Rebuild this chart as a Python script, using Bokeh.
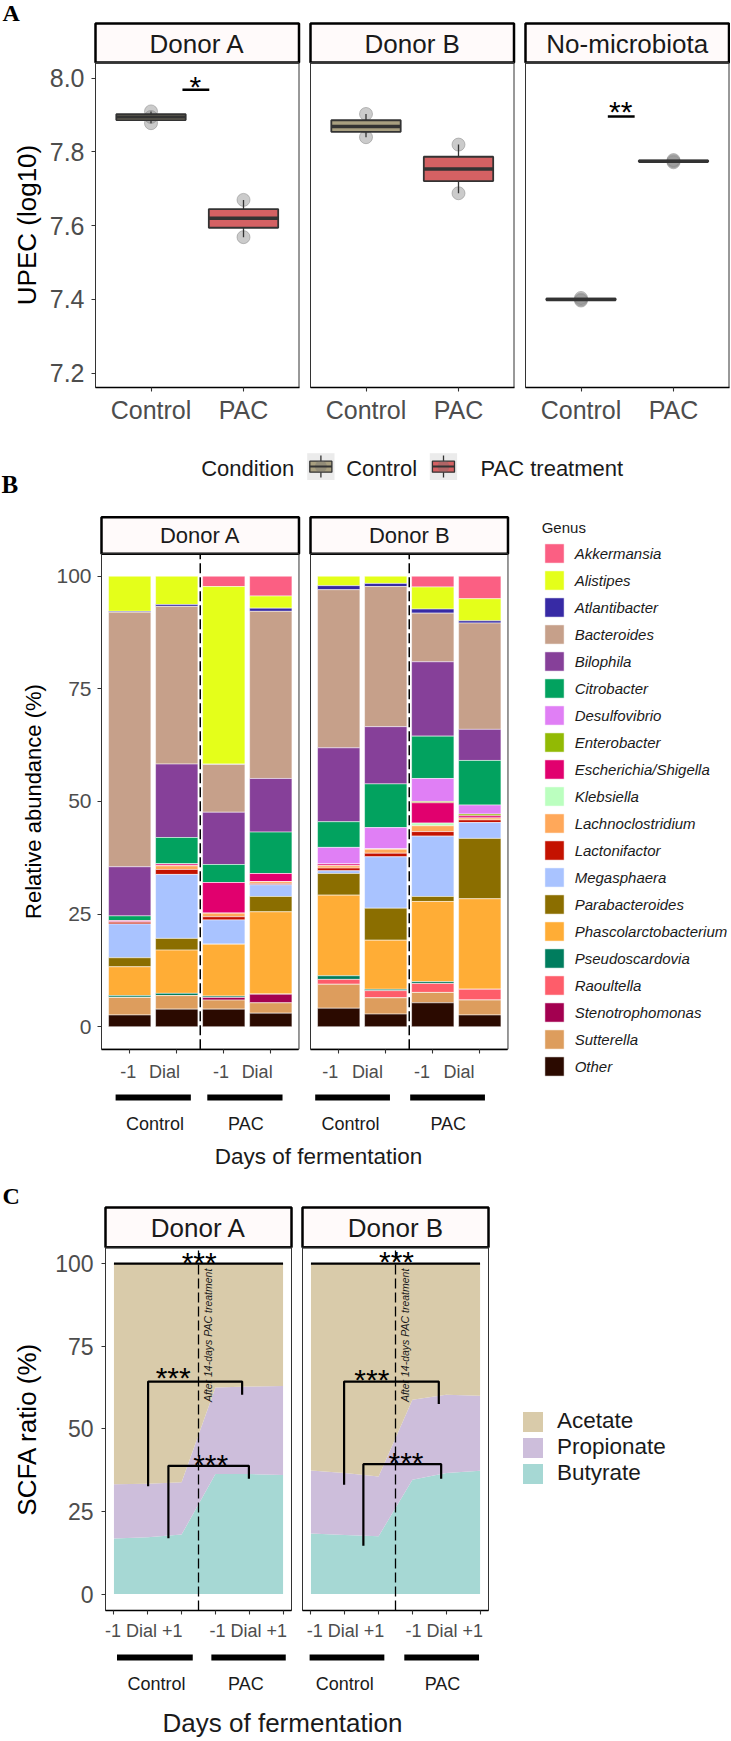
import numpy as np
from bokeh.plotting import figure
from bokeh.models import Range1d, LinearAxis, FixedTicker, Legend, LegendItem
from bokeh.layouts import column
from bokeh.embed import file_html
from bokeh.resources import INLINE
from bokeh.core.properties import value

# ======================= DATA =======================
# --- A: UPEC counts (log10), three replicates per box
upec_facets = ["Donor A", "Donor B", "No-microbiota"]
upec_groups = ["Control", "PAC"]
upec_control = [[7.878, 7.895, 7.910], [7.840, 7.869, 7.903], [7.397, 7.400, 7.404]]
upec_pac = [[7.569, 7.620, 7.670], [7.688, 7.754, 7.820], [7.772, 7.775, 7.778]]
upec_ticks = [7.2, 7.4, 7.6, 7.8, 8.0]
upec_tick_labels = ["7.2", "7.4", "7.6", "7.8", "8.0"]
upec_sig_facet = [0, 2]
upec_sig_x0 = [1.34, 1.29]
upec_sig_x1 = [1.63, 1.58]
upec_sig_y = [7.9685, 7.896]
upec_sig_text = ["*", "**"]
upec_sig_text_x = [1.48, 1.43]
upec_sig_text_y = [7.9965, 7.928]
condition_names = ["Control", "PAC treatment"]

# --- B: relative abundance (%) per genus, legend order
genus_names = ["Akkermansia", "Alistipes", "Atlantibacter", "Bacteroides", "Bilophila",
               "Citrobacter", "Desulfovibrio", "Enterobacter", "Escherichia/Shigella",
               "Klebsiella", "Lachnoclostridium", "Lactonifactor", "Megasphaera",
               "Parabacteroides", "Phascolarctobacterium", "Pseudoscardovia", "Raoultella",
               "Stenotrophomonas", "Sutterella", "Other"]
abund_A_ctrl_m1 = [0, 7.8, 0.2, 56.5, 10.9, 1.1, 0, 0, 0.3, 0, 0, 0.4, 7.5, 2.0, 6.4, 0.4, 0, 0, 3.9, 2.6]
abund_A_ctrl_dial = [0, 6.3, 0.4, 35.0, 16.3, 5.9, 0, 0, 0.4, 0, 0.8, 1.1, 14.2, 2.6, 9.6, 0.5, 0, 0, 3.0, 3.9]
abund_A_pac_m1 = [2.3, 39.4, 0.1, 10.6, 11.6, 4.0, 0, 0, 6.8, 0, 0.8, 0.7, 5.4, 0, 11.5, 0.3, 0, 0.6, 2.0, 3.9]
abund_A_pac_dial = [4.4, 2.7, 0.7, 37.1, 11.9, 9.2, 0, 0, 1.8, 0, 0.4, 0.3, 2.6, 3.4, 18.3, 0, 0, 1.9, 2.3, 3.0]
abund_B_ctrl_m1 = [0, 2.1, 0.9, 35.1, 16.4, 5.7, 3.7, 0, 0.4, 0, 0.5, 0.6, 0.6, 4.8, 17.9, 0.8, 1.1, 0, 5.3, 4.1]
abund_B_ctrl_dial = [0, 1.6, 0.7, 31.1, 12.7, 9.7, 4.8, 0, 0, 0, 0.9, 0.8, 11.4, 7.1, 10.9, 0.3, 1.6, 0, 3.6, 2.8]
abund_B_pac_m1 = [2.4, 4.9, 0.9, 10.8, 16.5, 9.4, 5.1, 0.3, 4.5, 0.6, 1.3, 1.0, 13.4, 1.1, 17.8, 0.4, 2.0, 0, 2.3, 5.3]
abund_B_pac_dial = [5.0, 4.9, 0.5, 23.6, 6.9, 9.9, 2.0, 0.4, 0.5, 0, 0.4, 0.6, 3.5, 13.4, 20.1, 0, 2.4, 0, 3.3, 2.6]
abund_facets = ["Donor A", "Donor B"]
abund_samples = [[abund_A_ctrl_m1, abund_A_ctrl_dial, abund_A_pac_m1, abund_A_pac_dial],
                 [abund_B_ctrl_m1, abund_B_ctrl_dial, abund_B_pac_m1, abund_B_pac_dial]]
abund_ticks = [0, 25, 50, 75, 100]
abund_day_labels = ["-1", "Dial", "-1", "Dial"]
abund_day_label_x = [[0.97, 1.74, 2.94, 3.71], [0.82, 1.61, 2.77, 3.56]]
group_names = ["Control", "PAC"]
abund_group_x0 = [[0.70, 2.65], [0.50, 2.52]]
abund_group_x1 = [[2.30, 4.25], [2.09, 4.11]]
abund_group_label_x = [[1.54, 3.47], [1.25, 3.33]]

# --- C: SCFA ratio (%)
scfa_names = ["Acetate", "Propionate", "Butyrate"]
scfa_days = [1, 2, 3, 4, 5, 6]
butyrate_A = [16.8, 17.2, 18.0, 36.3, 36.3, 36.0]
propionate_A = [16.4, 16.2, 15.8, 26.2, 26.5, 27.0]
acetate_A = [66.8, 66.6, 66.2, 37.5, 37.2, 37.0]
butyrate_B = [18.3, 17.9, 17.5, 34.6, 36.6, 37.3]
propionate_B = [19.1, 18.7, 18.1, 24.2, 23.7, 22.7]
acetate_B = [62.6, 63.4, 64.4, 41.2, 39.7, 40.0]
scfa_ticks = [0, 25, 50, 75, 100]
scfa_day_label = "-1 Dial +1"
scfa_day_label_x = [[1.88, 4.97], [2.02, 4.94]]
scfa_group_x0 = [[1.09, 3.88], [0.96, 3.76]]
scfa_group_x1 = [[3.33, 6.08], [3.17, 5.97]]
scfa_group_label_x = [[2.26, 4.90], [2.00, 4.89]]
scfa_note = "After 14-days PAC treatment"
scfa_note_x = [3.77, 3.79]
scfa_note_y = 78.3
scfa_br_facet = [0, 0, 0, 1, 1, 1]
scfa_br_x0 = [1.0, 2.01, 2.61, 1.0, 1.98, 2.55]
scfa_br_x1 = [6.0, 4.79, 4.99, 6.0, 4.78, 4.85]
scfa_br_y = [100, 64.3, 38.8, 100, 64.3, 39.3]
scfa_br_y0 = [100, 32.6, 16.9, 100, 33.1, 14.6]
scfa_br_y1 = [100, 60.3, 34.9, 100, 57.5, 34.9]
scfa_br_text_x = [3.52, 2.75, 3.86, 3.53, 2.80, 3.81]
scfa_br_text_y = [102.6, 67.5, 41.4, 102.7, 67.1, 41.9]

# ======================= STYLE =======================
FONT = "Liberation Sans"
SERIF = "Liberation Serif"
W = 730
STRIP_FILL = "#FFFAFA"
BOX_FILL = ["#A89F80", "#D46163"]
GENUS_COLORS = ["#FB5F83", "#E4FF1A", "#372AA5", "#C6A08A", "#864099", "#02A25F", "#E07FF5",
                "#92BA04", "#E1006E", "#BBFFBF", "#FFA85A", "#C41200", "#A9C3FF", "#8B6E00",
                "#FFAD36", "#007D5E", "#FE5D6A", "#A30050", "#DD9D5D", "#2B0A00"]
SCFA_COLORS = ["#D9CBAA", "#CDBEDB", "#A6D8D4"]
TICK_COL = "#4D4D4D"
STAR_PX = 0.57 * 30     # asterisk centre above its baseline (px)
BASE_FIX = 0.34         # measured downward shift of alphabetic baseline, in em


class Layout:
    def __init__(self, top, H, lefts, kx, xd0, yr0, yd0, ky):
        self.top, self.H, self.lefts = top, H, lefts
        self.kx, self.xd0, self.yr0, self.yd0, self.ky = kx, xd0, yr0, yd0, ky

    def X(self, xr, k=0):
        return self.xd0 + (xr - self.lefts[k]) / self.kx

    def Y(self, yr):
        return self.yd0 - (yr - self.yr0) / self.ky

    def figure(self):
        p = figure(width=W, height=self.H,
                   x_range=Range1d(self.X(0), self.X(W)),
                   y_range=Range1d(self.Y(self.top + self.H), self.Y(self.top)),
                   x_axis_location=None, y_axis_location=None, toolbar_location=None,
                   output_backend="svg", min_border=0, outline_line_color=None,
                   background_fill_color="white", border_fill_color="white")
        p.extra_x_ranges = {f"f{k}": Range1d(self.X(0, k), self.X(W, k))
                            for k in range(len(self.lefts))}
        p.grid.visible = False
        return p


def txt(p, L, x, y, s, size, color="#1A1A1A", align="left", style="normal", font=FONT,
        angle=0.0, rng="default", baseline="alphabetic"):
    if baseline == "alphabetic":
        y = y + BASE_FIX * size / L.ky
    p.text(x=[x], y=[y], text=[s], angle=angle, text_font=value(font),
           text_font_size=value(f"{size}px"), text_color=color, text_align=align,
           text_baseline=baseline, text_font_style=style, x_range_name=rng)


def add_y_axis(p, fixed_x, lo, hi, ticks, labels, size, standoff, title, title_size, title_standoff):
    ax = LinearAxis(fixed_location=fixed_x, bounds=(lo, hi),
                    ticker=FixedTicker(ticks=list(ticks), minor_ticks=[]),
                    major_label_overrides={t: l for t, l in zip(ticks, labels)},
                    axis_label=title)
    ax.axis_line_color = None
    ax.major_tick_line_color = "#333333"
    ax.major_tick_line_width = 1.1
    ax.major_tick_out = 4
    ax.major_tick_in = 0
    ax.minor_tick_line_color = None
    ax.major_label_text_font = FONT
    ax.major_label_text_font_size = f"{size}px"
    ax.major_label_text_color = TICK_COL
    ax.major_label_standoff = standoff
    ax.axis_label_text_font = FONT
    ax.axis_label_text_font_size = f"{title_size}px"
    ax.axis_label_text_color = "#000000"
    ax.axis_label_text_font_style = "normal"
    ax.axis_label_standoff = title_standoff
    p.add_layout(ax, "left")


def add_x_axis(p, rng, fixed_y, lo, hi, ticks, labels, size, standoff, tick_out, line):
    ax = LinearAxis(x_range_name=rng, fixed_location=fixed_y, bounds=(lo, hi),
                    ticker=FixedTicker(ticks=list(ticks), minor_ticks=[]),
                    major_label_overrides={t: l for t, l in zip(ticks, labels)})
    if line:
        ax.axis_line_color = "#000000"
        ax.axis_line_width = 1.3
    else:
        ax.axis_line_color = None
    if tick_out > 0:
        ax.major_tick_line_color = "#333333"
        ax.major_tick_line_width = 1.1
    else:
        ax.major_tick_line_color = None
    ax.major_tick_out = tick_out
    ax.major_tick_in = 0
    ax.minor_tick_line_color = None
    ax.major_label_text_font = FONT
    ax.major_label_text_font_size = f"{size}px"
    ax.major_label_text_color = TICK_COL
    ax.major_label_standoff = standoff
    p.add_layout(ax, "below")


# ======================= PANEL A =======================
LA = Layout(top=0, H=500, lefts=[95, 310, 525], kx=92.5, xd0=0.4, yr0=77.7, yd0=8.0, ky=368.75)
pA = LA.figure()
A_lo, A_hi = LA.Y(387), LA.Y(62)
for k, name in enumerate(upec_facets):
    r = f"f{k}"
    pA.quad(left=[0.4], right=[2.6], bottom=[A_hi], top=[LA.Y(23)], fill_color=STRIP_FILL,
            line_color="black", line_width=2.5, x_range_name=r)
    txt(pA, LA, 1.5, LA.Y(52.3), name, 26, align="center", rng=r)
    for ci, vals in enumerate([upec_control[k], upec_pac[k]]):
        c = ci + 1
        q1, med, q3 = np.percentile(vals, [25, 50, 75])
        iqr = q3 - q1
        inside = [v for v in vals if q1 - 1.5 * iqr <= v <= q3 + 1.5 * iqr]
        lo, hi = min(inside), max(inside)
        pA.scatter(x=[c] * len(vals), y=vals, size=13, marker="circle", fill_color="#8C8C8C",
                   fill_alpha=0.45, line_color="#7A7A7A", line_alpha=0.45, x_range_name=r)
        pA.segment(x0=[c, c], y0=[lo, q3], x1=[c, c], y1=[q1, hi], line_color="#333333",
                   line_width=1.3, x_range_name=r)
        pA.quad(left=[c - 0.375], right=[c + 0.375], bottom=[q1], top=[q3],
                fill_color=BOX_FILL[ci], line_color="#333333", line_width=1.8, x_range_name=r)
        pA.segment(x0=[c - 0.375], y0=[med], x1=[c + 0.375], y1=[med], line_color="#333333",
                   line_width=3.5, x_range_name=r)
    pA.quad(left=[0.4], right=[2.6], bottom=[A_lo], top=[A_hi], fill_color=None,
            line_color="#333333", line_width=1.0, x_range_name=r)
    add_x_axis(pA, r, A_lo, 0.4, 2.6, [1, 2], upec_groups, 25, 4, 4, True)

for i, fk in enumerate(upec_sig_facet):
    r = f"f{fk}"
    pA.segment(x0=[upec_sig_x0[i]], y0=[upec_sig_y[i]], x1=[upec_sig_x1[i]], y1=[upec_sig_y[i]],
               line_color="black", line_width=2.5, x_range_name=r)
    txt(pA, LA, upec_sig_text_x[i], upec_sig_text_y[i] - STAR_PX / LA.ky, upec_sig_text[i], 30,
        color="black", align="center", rng=r)

add_y_axis(pA, 0.4, A_lo, A_hi, upec_ticks, upec_tick_labels, 25, 7, "UPEC (log10)", 26, 5)
txt(pA, LA, LA.X(2), LA.Y(20.5), "A", 24, color="black", style="bold", font=SERIF)
txt(pA, LA, LA.X(1), LA.Y(492.5), "B", 25, color="black", style="bold", font=SERIF)

# legend A (Condition)
txt(pA, LA, LA.X(200.7), LA.Y(475), "Condition", 22)
for i, (kx0, lab_x) in enumerate([(306.7, 345.7), (429.3, 480.0)]):
    cx = kx0 + 13.7
    pA.quad(left=[LA.X(kx0)], right=[LA.X(kx0 + 27.3)], bottom=[LA.Y(479.5)], top=[LA.Y(452.7)],
            fill_color="#EBEBEB", line_color=None)
    pA.segment(x0=[LA.X(cx)], y0=[LA.Y(455.0)], x1=[LA.X(cx)], y1=[LA.Y(477.0)],
               line_color="#333333", line_width=1.3)
    pA.quad(left=[LA.X(kx0 + 2.6)], right=[LA.X(kx0 + 24.7)], bottom=[LA.Y(471.7)],
            top=[LA.Y(460.7)], fill_color=BOX_FILL[i], line_color="#333333", line_width=1.3)
    pA.scatter(x=[LA.X(cx)], y=[LA.Y(466)], size=12, marker="circle", fill_color="#6E6E6E",
               fill_alpha=0.35, line_color=None)
    pA.segment(x0=[LA.X(kx0 + 2.6)], y0=[LA.Y(466)], x1=[LA.X(kx0 + 24.7)], y1=[LA.Y(466)],
               line_color="#333333", line_width=2)
    txt(pA, LA, LA.X(lab_x), LA.Y(475), condition_names[i], 22)

# ======================= PANEL B =======================
LB = Layout(top=500, H=680, lefts=[101, 310], kx=47.02, xd0=0.4, yr0=1026.2, yd0=0.0, ky=4.505)
pB = LB.figure()
legend_renderers = []
for k, name in enumerate(abund_facets):
    r = f"f{k}"
    pB.quad(left=[0.4], right=[4.6], bottom=[105], top=[LB.Y(516.7)], fill_color=STRIP_FILL,
            line_color="black", line_width=2.5, x_range_name=r)
    txt(pB, LB, 2.5, LB.Y(542.3), name, 22, align="center", rng=r)
    samples = abund_samples[k]
    for gi, g in enumerate(genus_names):
        bottoms = [sum(s[gi + 1:]) for s in samples]
        tops = [b + s[gi] for b, s in zip(bottoms, samples)]
        rr = pB.vbar(x=[1, 2, 3, 4], width=0.9, bottom=bottoms, top=tops,
                     fill_color=GENUS_COLORS[gi], line_color="white", line_width=0.5,
                     x_range_name=r)
        if k == 0:
            legend_renderers.append(rr)
    pB.segment(x0=[2.5], y0=[-5], x1=[2.5], y1=[105], line_color="black", line_width=1.5,
               line_dash="10 4", x_range_name=r)
    pB.quad(left=[0.4], right=[4.6], bottom=[-5], top=[105], fill_color=None,
            line_color="#333333", line_width=1.0, x_range_name=r)
    add_x_axis(pB, r, -5, 0.4, 4.6, [1, 2, 3, 4], ["", "", "", ""], 18, 4, 4, True)
    add_x_axis(pB, r, -5, 0.4, 4.6, abund_day_label_x[k], abund_day_labels, 18, 13, 0, False)
    for j, gname in enumerate(group_names):
        pB.segment(x0=[abund_group_x0[k][j]], y0=[LB.Y(1097)], x1=[abund_group_x1[k][j]],
                   y1=[LB.Y(1097)], line_color="black", line_width=6, x_range_name=r)
        txt(pB, LB, abund_group_label_x[k][j], LB.Y(1130), gname, 18, align="center", rng=r)

add_y_axis(pB, 0.4, -5, 105, abund_ticks, [str(t) for t in abund_ticks], 21, 6,
           "Relative abundance (%)", 22, 7)
txt(pB, LB, LB.X(318), LB.Y(1164), "Days of fermentation", 22.5, align="center")

legB = Legend(items=[LegendItem(label=g, renderers=[legend_renderers[i]])
                     for i, g in enumerate(genus_names)],
              location=(541.7, 101.8), orientation="vertical", title="Genus",
              title_text_font=FONT, title_text_font_size="15px", title_text_font_style="normal",
              title_text_color="#1A1A1A", title_standoff=5,
              label_text_font=FONT, label_text_font_size="15px", label_text_font_style="italic",
              label_text_color="#1A1A1A", glyph_width=24, glyph_height=24, spacing=3,
              label_standoff=9, label_height=20, padding=0, margin=0,
              border_line_color=None, background_fill_alpha=0)
pB.add_layout(legB)

# ======================= PANEL C =======================
LC = Layout(top=1180, H=560, lefts=[105, 302], kx=33.82, xd0=0.75, yr0=1593.5, yd0=0.0, ky=3.303)
pC = LC.figure()
scfa_sets = [(butyrate_A, propionate_A, acetate_A), (butyrate_B, propionate_B, acetate_B)]
scfa_leg = []
for k, name in enumerate(abund_facets):
    r = f"f{k}"
    pC.quad(left=[0.75], right=[6.25], bottom=[105], top=[LC.Y(1207)], fill_color=STRIP_FILL,
            line_color="black", line_width=2.5, x_range_name=r)
    txt(pC, LC, 3.5, LC.Y(1236.7), name, 26, align="center", rng=r)
    but, pro, ace = scfa_sets[k]
    b_top = list(but)
    p_top = [b + q for b, q in zip(but, pro)]
    a_top = [t + a for t, a in zip(p_top, ace)]
    rb = pC.varea(x=scfa_days, y1=[0] * 6, y2=b_top, fill_color=SCFA_COLORS[2], x_range_name=r)
    rp = pC.varea(x=scfa_days, y1=b_top, y2=p_top, fill_color=SCFA_COLORS[1], x_range_name=r)
    ra = pC.varea(x=scfa_days, y1=p_top, y2=a_top, fill_color=SCFA_COLORS[0], x_range_name=r)
    if k == 0:
        scfa_leg = [ra, rp, rb]
    pC.segment(x0=[3.5], y0=[-5], x1=[3.5], y1=[105], line_color="black", line_width=1.3,
               line_dash="10 4", x_range_name=r)
    txt(pC, LC, scfa_note_x[k], scfa_note_y, scfa_note, 10.5, align="center", style="italic",
        angle=np.pi / 2, rng=r, baseline="middle")
    pC.quad(left=[0.75], right=[6.25], bottom=[-5], top=[105], fill_color=None,
            line_color="#333333", line_width=1.0, x_range_name=r)
    add_x_axis(pC, r, -5, 0.75, 6.25, scfa_days, [""] * 6, 18, 4, 4, True)
    add_x_axis(pC, r, -5, 0.75, 6.25, scfa_day_label_x[k], [scfa_day_label] * 2, 18, 10, 0, False)
    for j, gname in enumerate(group_names):
        pC.segment(x0=[scfa_group_x0[k][j]], y0=[LC.Y(1657)], x1=[scfa_group_x1[k][j]],
                   y1=[LC.Y(1657)], line_color="black", line_width=6, x_range_name=r)
        txt(pC, LC, scfa_group_label_x[k][j], LC.Y(1689.5), gname, 18, align="center", rng=r)

for i, fk in enumerate(scfa_br_facet):
    r = f"f{fk}"
    pC.multi_line(xs=[[scfa_br_x0[i], scfa_br_x0[i], scfa_br_x1[i], scfa_br_x1[i]]],
                  ys=[[scfa_br_y0[i], scfa_br_y[i], scfa_br_y[i], scfa_br_y1[i]]],
                  line_color="black", line_width=2.2, x_range_name=r)
    txt(pC, LC, scfa_br_text_x[i], scfa_br_text_y[i] - STAR_PX / LC.ky, "***", 30, color="black",
        align="center", rng=r)

add_y_axis(pC, 0.75, -5, 105, scfa_ticks, [str(t) for t in scfa_ticks], 23, 8,
           "SCFA ratio (%)", 26, 10)
txt(pC, LC, LC.X(282), LC.Y(1731), "Days of fermentation", 26, align="center")
txt(pC, LC, LC.X(2), LC.Y(1203.3), "C", 24, color="black", style="bold", font=SERIF)

legC = Legend(items=[LegendItem(label=n, renderers=[scfa_leg[i]]) for i, n in enumerate(scfa_names)],
              location=(520, 254), orientation="vertical",
              label_text_font=FONT, label_text_font_size="22.5px", label_text_color="#1A1A1A",
              glyph_width=25, glyph_height=25, spacing=0, label_standoff=12, label_height=25,
              padding=0, margin=0, border_line_color=None, background_fill_alpha=0)
pC.add_layout(legC)

layout = column(pA, pB, pC)
open("out.html", "w").write(file_html(layout, INLINE))
